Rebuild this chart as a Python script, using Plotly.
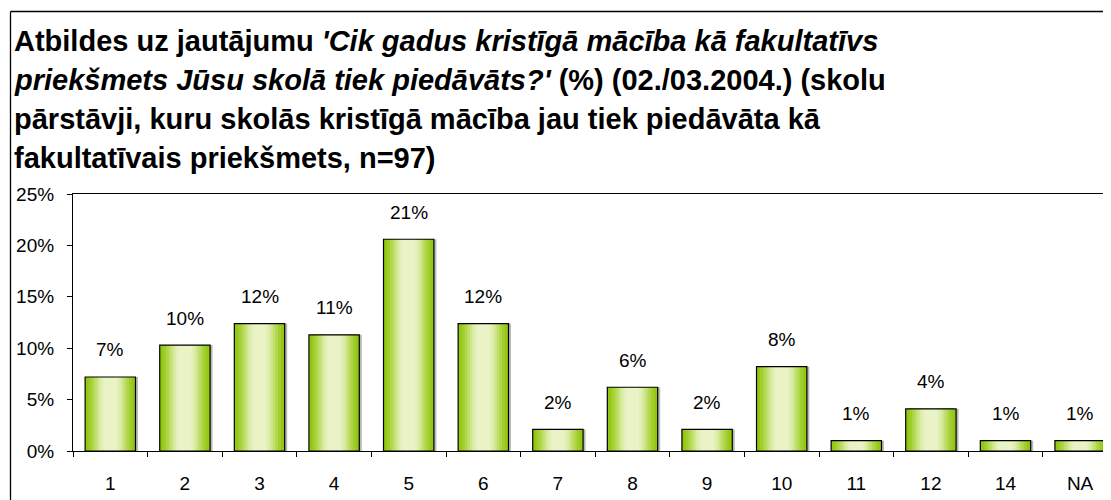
import plotly.graph_objects as go

# ---- data ----
categories = ["1", "2", "3", "4", "5", "6", "7", "8", "9", "10", "11", "12", "14", "NA"]
values = [7.2, 10.3, 12.4, 11.3, 20.6, 12.4, 2.1, 6.2, 2.1, 8.2, 1.0, 4.1, 1.0, 1.0]
value_labels = ["7%", "10%", "12%", "11%", "21%", "12%", "2%", "6%", "2%", "8%", "1%", "4%", "1%", "1%"]
y_tick_vals = [0, 5, 10, 15, 20, 25]
y_tick_text = ["0%", "5%", "10%", "15%", "20%", "25%"]
title_lines = [
    "<b>Atbildes uz jautājumu <i>'Cik gadus kristīgā mācība kā fakultatīvs</i></b>",
    "<b><i>priekšmets Jūsu skolā tiek piedāvāts?'</i> (%) (02./03.2004.) (skolu</b>",
    "<b>pārstāvji, kuru skolās kristīgā mācība jau tiek piedāvāta kā</b>",
    "<b>fakultatīvais priekšmets, n=97)</b>",
]

# ---- style ----
FONT = "Liberation Sans, Arial, sans-serif"
OFF = 8  # page body margin offset
W, H = 1111 - OFF, 500 - OFF
ML, MR, MT, MB = 73 - OFF, 0, 194 - OFF, 49
PW, PH = W - ML - MR, H - MT - MB
CAT_PX = 74.6
BAR_W = 0.675
band_colors = ["#94c614", "#a1ce2c", "#b0d64a", "#c0de6c", "#cfe68c",
               "#dbeca6", "#e3f0b9", "#e9f3c6"]
band_fracs = [1.0, 0.86, 0.74, 0.63, 0.53, 0.44, 0.35, 0.26]


def px_to_paper_x(px):
    return (px - OFF - ML) / PW


def px_to_paper_y(py):
    return (H - MB - (py - OFF)) / PH


fig = go.Figure()
fig.add_trace(go.Bar(
    x=categories, y=values, width=BAR_W, offset=-BAR_W / 2 + 2.5 / CAT_PX,
    marker=dict(color="#b8b8b8", line=dict(width=0)),
    hoverinfo="skip", showlegend=False,
))
for col, frac in zip(band_colors, band_fracs):
    fig.add_trace(go.Bar(
        x=categories, y=values, width=BAR_W * frac,
        marker=dict(color=col, line=dict(width=0)),
        hoverinfo="skip", showlegend=False,
    ))
fig.add_trace(go.Bar(
    x=categories, y=values, width=BAR_W,
    marker=dict(color="rgba(0,0,0,0)", line=dict(color="black", width=1.2)),
    showlegend=False,
))

annotations = []
for i, (v, t) in enumerate(zip(values, value_labels)):
    annotations.append(dict(x=i, y=v, text=t, showarrow=False, yshift=27,
                            xref="x", yref="y",
                            font=dict(family=FONT, size=19, color="black")))

title_centers = [41, 80, 119, 158]
for line, cy in zip(title_lines, title_centers):
    annotations.append(dict(x=px_to_paper_x(12), y=px_to_paper_y(cy), xref="paper", yref="paper",
                            xanchor="left", yanchor="middle", showarrow=False, text=line,
                            font=dict(family=FONT, size=29, color="black")))

border_line = dict(color="black", width=1.3)
fig.update_layout(
    width=W, height=H,
    margin=dict(l=ML, r=MR, t=MT, b=MB, autoexpand=False),
    paper_bgcolor="white", plot_bgcolor="white",
    barmode="overlay",
    annotations=annotations,
    shapes=[
        dict(type="line", xref="paper", yref="paper", layer="above",
             x0=px_to_paper_x(10.5), x1=px_to_paper_x(1111),
             y0=px_to_paper_y(11.5), y1=px_to_paper_y(11.5), line=border_line),
        dict(type="line", xref="paper", yref="paper", layer="above",
             x0=px_to_paper_x(10.5), x1=px_to_paper_x(10.5),
             y0=px_to_paper_y(11.5), y1=px_to_paper_y(500), line=border_line),
    ],
    font=dict(family=FONT, color="black"),
)
fig.update_xaxes(
    range=[-0.5, -0.5 + PW / CAT_PX], showgrid=False, zeroline=False, automargin=False,
    showline=True, linecolor="black", linewidth=1.2, mirror=True,
    ticks="outside", tickson="boundaries", ticklen=5, tickcolor="black",
    tickfont=dict(family=FONT, size=19, color="black"), ticklabelstandoff=15,
)
fig.update_yaxes(
    range=[0, 25], showgrid=False, zeroline=False, automargin=False,
    showline=True, linecolor="black", linewidth=1.2,
    ticks="outside", ticklen=5, tickcolor="black",
    tickvals=y_tick_vals, ticktext=y_tick_text,
    tickfont=dict(family=FONT, size=19, color="black"), ticklabelstandoff=9,
)

fig.write_html("out.html")
